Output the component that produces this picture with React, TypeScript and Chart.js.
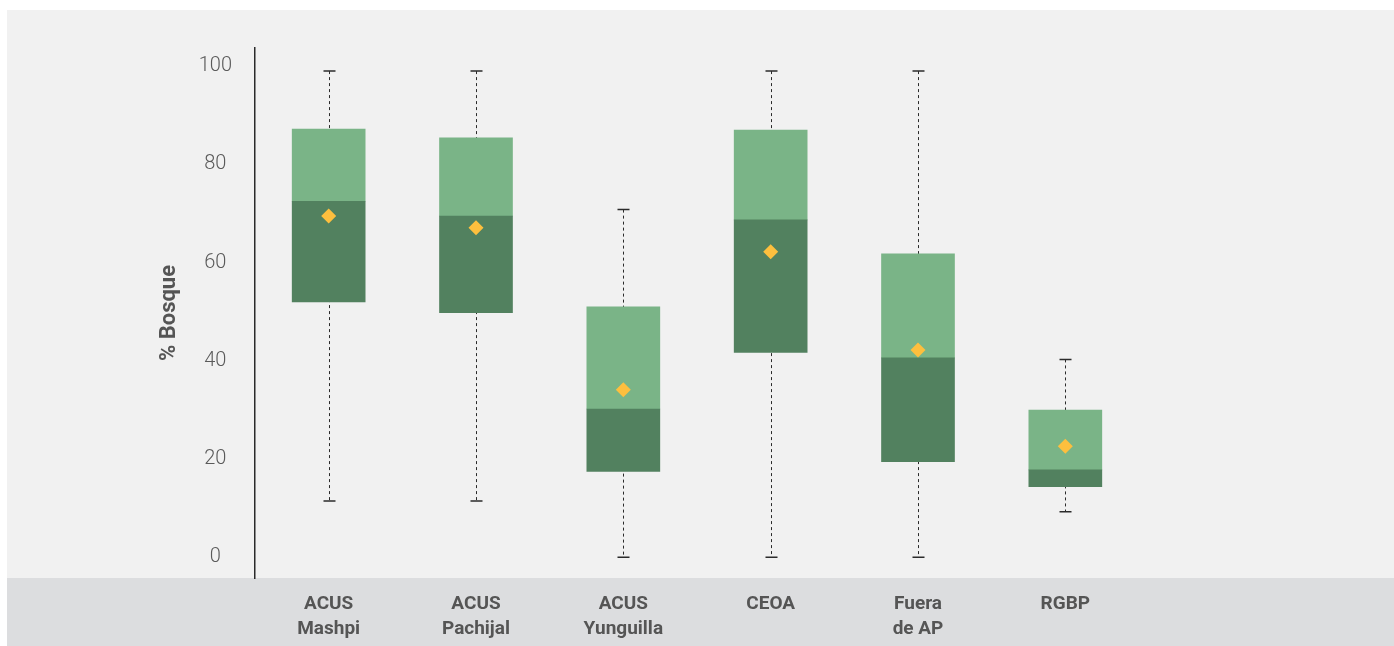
import React, { useEffect, useRef } from "react";
import { Chart, registerables } from "chart.js";

Chart.register(...registerables);

const categories: string[][] = [
  ["ACUS", "Mashpi"],
  ["ACUS", "Pachijal"],
  ["ACUS", "Yunguilla"],
  ["CEOA"],
  ["Fuera", "de AP"],
  ["RGBP"],
];
const whiskerMin = [11.5, 11.5, 0, 0, 0, 9.3];
const q1 = [52.0, 49.8, 17.5, 41.7, 19.5, 14.4];
const median = [72.5, 69.5, 30.2, 68.7, 40.6, 17.8];
const q3 = [87.2, 85.4, 51.0, 87.0, 61.8, 30.0];
const whiskerMax = [99, 99, 70.8, 99, 99, 40.3];
const means = [69.5, 67.1, 34.1, 62.2, 42.2, 22.6];
const yTicks = [0, 20, 40, 60, 80, 100];

const W = 1387;
const H = 636;

const whiskerPlugin = {
  id: "whiskers",
  beforeDatasetsDraw(chart: any) {
    const { ctx } = chart;
    const x = chart.scales.x;
    const y = chart.scales.y;
    ctx.save();
    ctx.strokeStyle = "#2b2b2b";
    for (let i = 0; i < categories.length; i++) {
      const px = Math.round(x.getPixelForValue(i)) + 0.5;
      const yMin = y.getPixelForValue(whiskerMin[i]);
      const yMax = y.getPixelForValue(whiskerMax[i]);
      ctx.lineWidth = 1;
      ctx.setLineDash([3, 3]);
      ctx.beginPath();
      ctx.moveTo(px, yMax);
      ctx.lineTo(px, yMin);
      ctx.stroke();
      ctx.setLineDash([]);
      ctx.lineWidth = 1.5;
      ctx.beginPath();
      ctx.moveTo(px - 6, yMax);
      ctx.lineTo(px + 6, yMax);
      ctx.moveTo(px - 6, yMin);
      ctx.lineTo(px + 6, yMin);
      ctx.stroke();
    }
    ctx.restore();
  },
};

export default function App() {
  const ref = useRef<HTMLCanvasElement>(null);

  useEffect(() => {
    if (!ref.current) return;
    const chart = new Chart(ref.current, {
      type: "bar",
      data: {
        labels: categories as any,
        datasets: [
          {
            type: "line",
            label: "Media",
            data: means,
            showLine: false,
            pointStyle: "rectRot",
            pointRadius: 7.5,
            pointHoverRadius: 7.5,
            pointBackgroundColor: "#fdbf3e",
            pointBorderWidth: 0,
            borderWidth: 0,
            order: 0,
          } as any,
          {
            type: "bar",
            label: "Q1-Mediana",
            data: q1.map((v, i) => [v, median[i]]) as any,
            backgroundColor: "#52815f",
            borderWidth: 0,
            borderSkipped: false,
            barThickness: 73,
            grouped: false,
            order: 1,
          } as any,
          {
            type: "bar",
            label: "Mediana-Q3",
            data: median.map((v, i) => [v, q3[i]]) as any,
            backgroundColor: "#7ab487",
            borderWidth: 0,
            borderSkipped: false,
            barThickness: 73,
            grouped: false,
            order: 2,
          } as any,
        ],
      },
      options: {
        responsive: false,
        animation: false,
        devicePixelRatio: 1,
        layout: { padding: { top: 38, right: 255, bottom: 0, left: 0 } },
        plugins: {
          legend: { display: false },
          tooltip: { enabled: false },
        },
        scales: {
          x: {
            type: "category",
            offset: true,
            grid: { display: false, drawTicks: false },
            border: { display: false },
            ticks: {
              padding: 14,
              color: "#555555",
              font: { family: "Roboto", size: 19, weight: "bold", lineHeight: 1.3 },
              maxRotation: 0,
              autoSkip: false,
            },
            afterFit(scale: any) {
              scale.height = 68;
            },
          },
          y: {
            type: "linear",
            min: -4.2,
            max: 103.7,
            grid: { display: false, drawTicks: false },
            border: { display: true, color: "#2a2a2a", width: 1.5 },
            afterBuildTicks(scale: any) {
              scale.ticks = yTicks.map((v) => ({ value: v }));
            },
            ticks: {
              padding: 23,
              crossAlign: "center",
              color: "#5a5a5a",
              font: { family: "Roboto", size: 20, weight: "300" },
            },
            title: {
              display: true,
              text: "% Bosque",
              color: "#555555",
              font: { family: "Roboto", size: 22, weight: "bold", lineHeight: 1.2 },
              padding: { top: 149, bottom: 0 },
            },
            afterFit(scale: any) {
              scale.width = 248;
            },
          },
        },
      },
      plugins: [whiskerPlugin],
    });
    return () => chart.destroy();
  }, []);

  return (
    <div
      style={{
        position: "absolute",
        left: 7,
        top: 10,
        width: W,
        height: H,
        background: "#f1f1f1",
        overflow: "hidden",
      }}
    >
      <div
        style={{
          position: "absolute",
          left: 0,
          top: 568,
          width: W,
          height: H - 568,
          background: "#dcdddf",
        }}
      />
      <canvas
        ref={ref}
        width={W}
        height={H}
        style={{ position: "absolute", left: 0, top: 0, width: W, height: H }}
      />
    </div>
  );
}
